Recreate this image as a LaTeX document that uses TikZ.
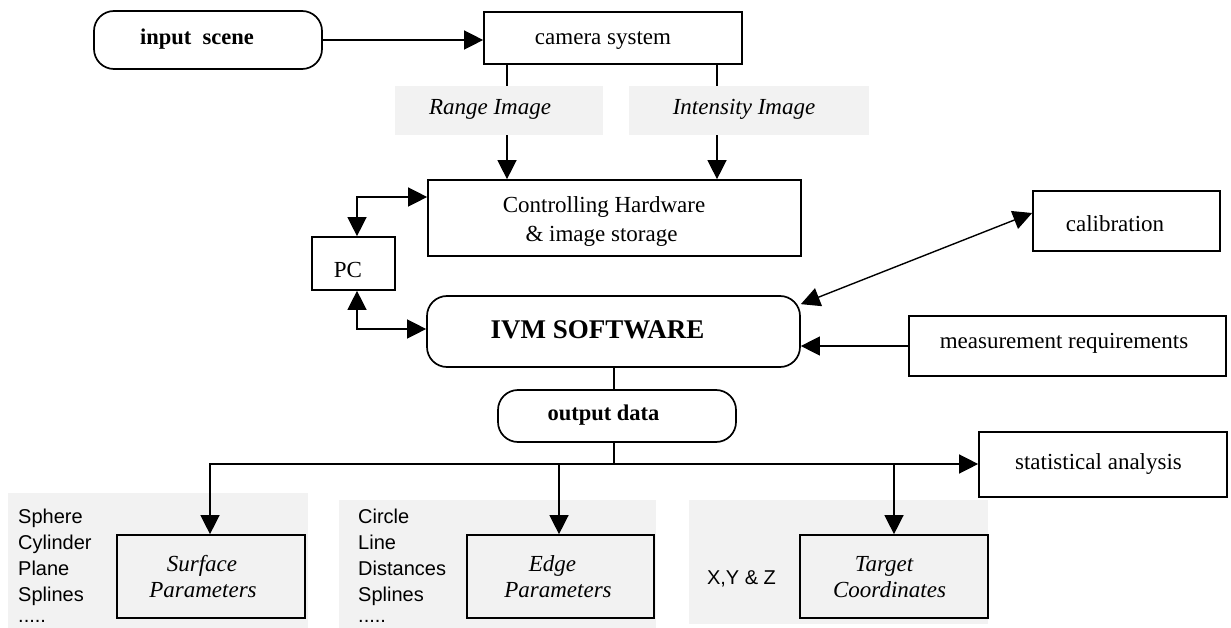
\documentclass[tikz,border=0pt]{standalone}
\usepackage{fontspec}
\setmainfont{Liberation Serif}
\setsansfont{Liberation Sans}
\usetikzlibrary{arrows.meta}
\definecolor{bandgray}{HTML}{F2F2F2}
\begin{document}
\begin{tikzpicture}[x=1pt,y=-1pt,
  box/.style={draw,line width=1.7pt,inner sep=0pt},
  rbox/.style={box,rounded corners=20pt},
  band/.style={fill=bandgray,draw=none,inner sep=0pt},
  lbl/.style={anchor=base,inner sep=0pt,font=\fontsize{23}{27}\selectfont},
  ilbl/.style={anchor=base,inner sep=0pt,font=\fontsize{23}{27}\selectfont\itshape},
  blbl/.style={anchor=base,inner sep=0pt,font=\fontsize{22.5}{27}\selectfont\bfseries},
  slbl/.style={anchor=base west,inner sep=0pt,font=\fontsize{20}{24}\selectfont\sffamily},
  conn/.style={line width=1.4pt},
  arr/.style={conn,-{Triangle[length=19pt,width=19pt]}},
  darr/.style={conn,{Triangle[length=19pt,width=19pt]}-{Triangle[length=19pt,width=19pt]}},
]
\fill[white] (0,0) rectangle (1231,628);
\useasboundingbox (0,0) rectangle (1231,628);

% shaded background panels
\node[band,minimum width=208pt,minimum height=49pt] (rangeband) at (499,110.5) {};
\node[band,minimum width=240pt,minimum height=49pt] (intband) at (749,110.5) {};
\node[band,minimum width=300pt,minimum height=135pt] (surfband) at (158,560.5) {};
\node[band,minimum width=317pt,minimum height=128pt] (edgeband) at (497.5,564) {};
\node[band,minimum width=299pt,minimum height=124pt] (tgtband) at (838.5,562) {};

% boxes
\node[rbox,minimum width=228pt,minimum height=58pt] (input) at (208,40) {};
\node[box,minimum width=258pt,minimum height=52pt] (camera) at (613,38) {};
\node[box,minimum width=373pt,minimum height=76pt] (ctrl) at (614.5,218) {};
\node[box,minimum width=83pt,minimum height=53pt] (pc) at (353.5,263.5) {};
\node[rbox,minimum width=373pt,minimum height=71pt] (ivm) at (613.5,331.5) {};
\node[box,minimum width=187pt,minimum height=60pt] (cal) at (1126.5,221) {};
\node[box,minimum width=317pt,minimum height=60pt] (meas) at (1067.5,346) {};
\node[rbox,minimum width=238pt,minimum height=52pt] (out) at (617,416) {};
\node[box,minimum width=248pt,minimum height=65pt] (stat) at (1103,464.5) {};
\node[box,minimum width=188pt,minimum height=83pt] (surf) at (211,576.5) {};
\node[box,minimum width=187pt,minimum height=83pt] (edge) at (560.5,576.5) {};
\node[box,minimum width=188pt,minimum height=83pt] (tgt) at (894,576.5) {};

% box texts
\node[blbl] (tinput) at (197,45) {input\ \ scene};
\node[lbl] (tcamera) at (603,45) {camera system};
\node[ilbl] (trange) at (490,115) {Range Image};
\node[ilbl] (tint) at (744,115) {Intensity Image};
\node[lbl] (tctrl1) at (604,213) {Controlling Hardware};
\node[lbl] (tctrl2) at (601.5,242) {\& image storage};
\node[lbl] (tpc) at (348,278) {PC};
\node[blbl,font=\fontsize{27}{30}\selectfont\bfseries] (tivm) at (597.5,338) {IVM SOFTWARE};
\node[lbl] (tcal) at (1115,232) {calibration};
\node[lbl] (tmeas) at (1064,348) {measurement requirements};
\node[blbl] (tout) at (603.5,420) {output data};
\node[lbl] (tstat) at (1098.5,469) {statistical analysis};
\node[ilbl] (tsurf1) at (202,571) {Surface};
\node[ilbl] (tsurf2) at (203,597) {Parameters};
\node[ilbl] (tedge1) at (552.5,571) {Edge};
\node[ilbl] (tedge2) at (558,597) {Parameters};
\node[ilbl] (ttgt1) at (884,571) {Target};
\node[ilbl] (ttgt2) at (889.5,597) {Coordinates};

% side lists
\foreach \w [count=\i] in {Sphere,Cylinder,Plane,Splines}
  \node[slbl] (sl\i) at (18,497+26*\i) {\w};
\node[slbl] (sl5) at (18,622) {.....};
\foreach \w [count=\i] in {Circle,Line,Distances,Splines}
  \node[slbl] (el\i) at (358,497+26*\i) {\w};
\node[slbl] (el5) at (358,622) {.....};
\node[slbl,anchor=base] (xyz) at (741.5,584) {X,Y \& Z};

% connectors
\coordinate (xr) at (507,0);
\coordinate (xi) at (717,0);
\coordinate (bus) at (614,464);
\draw[arr] (input.east) -- (input.east -| camera.west);
\draw[conn] (camera.south -| xr) -- (rangeband.north -| xr);
\draw[arr] (rangeband.south -| xr) -- (ctrl.north -| xr);
\draw[conn] (camera.south -| xi) -- (intband.north -| xi);
\draw[arr] (intband.south -| xi) -- (ctrl.north -| xi);
\draw[darr] ([xshift=3.5pt]pc.north) |- ([yshift=21pt]ctrl.west);
\draw[darr] ([xshift=3.5pt]pc.south) |- ([yshift=2.5pt]ivm.west);
\draw[darr] ([yshift=8pt]cal.west) -- ([yshift=-9pt]ivm.north east);
\draw[arr] (meas.west) -- (meas.west -| ivm.east);
\draw[conn] (ivm.south -| bus) -- (out.north -| bus);
\draw[conn] (out.south -| bus) -- (bus);
\draw[arr] (bus) -- (bus -| stat.west);
\draw[arr] (bus) -| ([xshift=-1pt]surf.north);
\draw[arr] (bus -| edge.north) ++(-1.5,0) -- ([xshift=-1.5pt]edge.north);
\draw[arr] (bus -| tgt.north) -- (tgt.north);
\end{tikzpicture}
\end{document}
